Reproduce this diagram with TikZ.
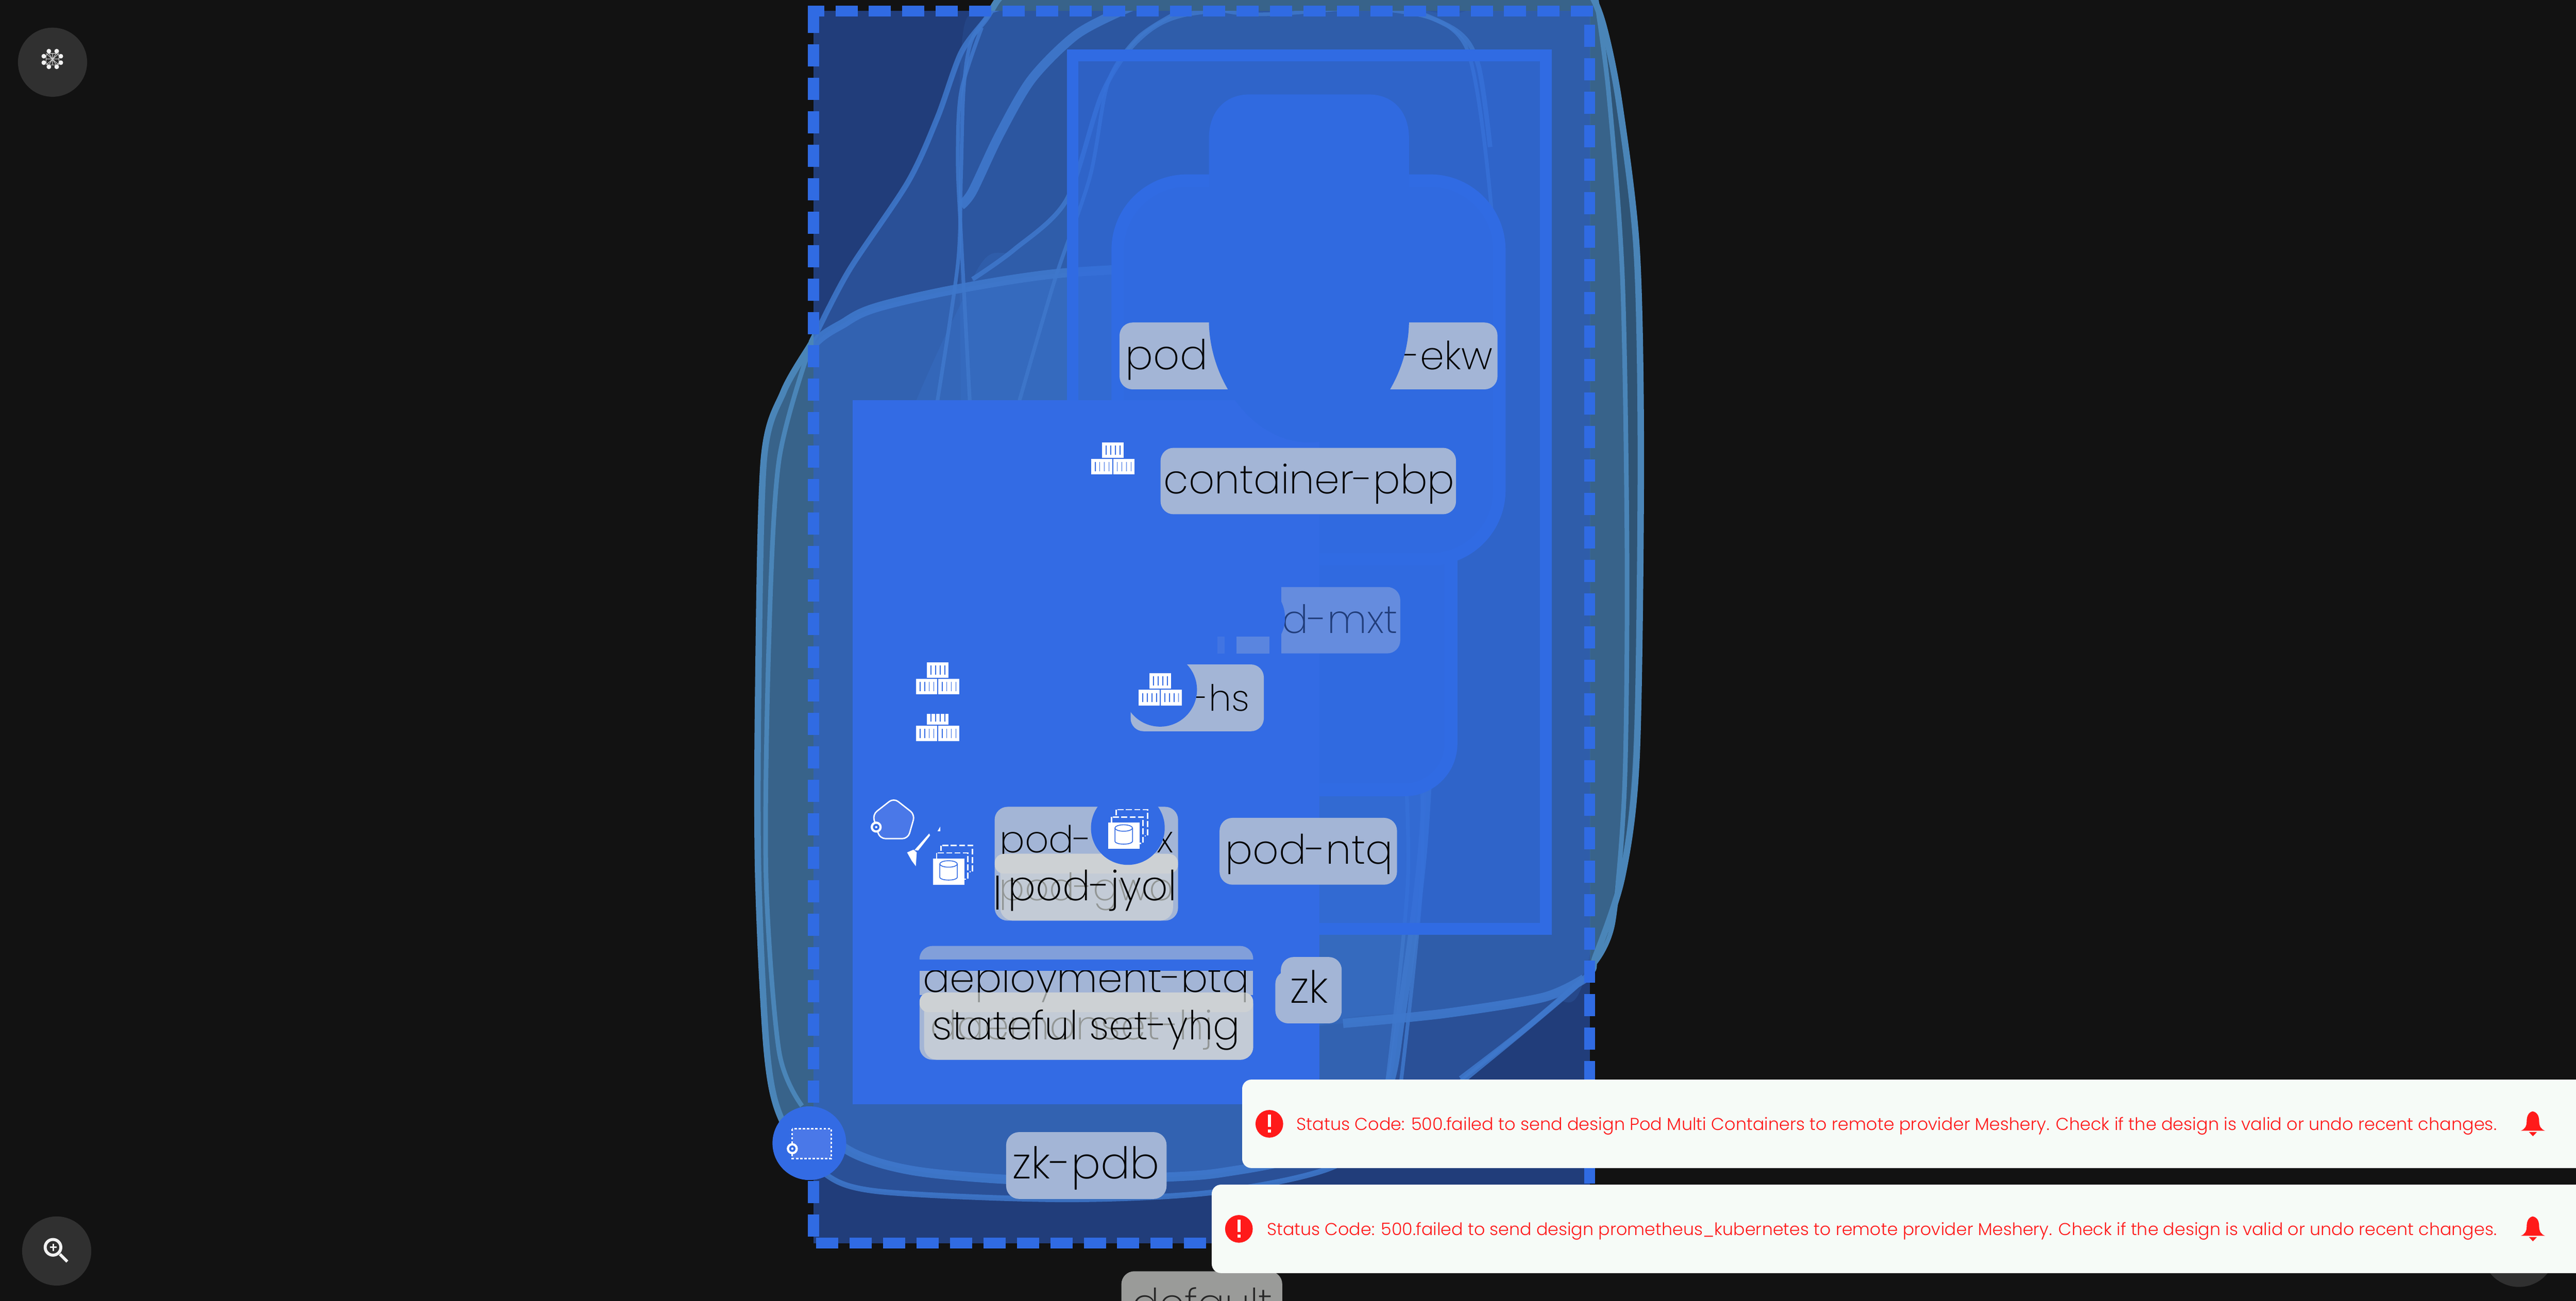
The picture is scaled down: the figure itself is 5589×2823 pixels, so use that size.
\documentclass[tikz,border=0pt]{standalone}
\usepackage{fontspec}
\usepackage{graphicx}
\newfontfamily\lf{Poppins ExtraLight}
\newfontfamily\tf{Poppins Light}
\definecolor{bgk}{HTML}{121212}
\definecolor{navy}{HTML}{213D7A}
\definecolor{dashb}{HTML}{306BE3}
\definecolor{blockb}{HTML}{336BE4}
\definecolor{podb}{HTML}{306AE0}
\definecolor{halo}{HTML}{38638A}
\definecolor{halod}{HTML}{2F5475}
\definecolor{edge}{HTML}{4A85B8}
\definecolor{glow}{HTML}{468CF0}
\definecolor{curvec}{HTML}{3F78CC}
\definecolor{lab}{HTML}{A3B5D6}
\definecolor{labl}{HTML}{C3CBD6}
\definecolor{labo}{HTML}{CDD1D4}
\definecolor{ghost}{HTML}{929695}
\definecolor{dflt}{HTML}{9A9B99}
\definecolor{toast}{HTML}{F6FBF7}
\definecolor{redc}{HTML}{FF1A1A}
\definecolor{btn}{HTML}{303030}
\definecolor{iconb}{HTML}{4A78E8}
\newcommand{\fitw}[2]{\resizebox{#1\dimexpr0.01cm\relax}{!}{\lf #2}}
\newcommand{\fitt}[2]{\resizebox{#1\dimexpr0.01cm\relax}{!}{\tf #2}}
\tikzset{
  txt/.style={inner sep=0pt,outer sep=0pt,anchor=base west,text=black},
  labelbox/.style={fill=lab,rounded corners=0.28cm},
  dashside/.style={draw=dashb,line width=0.24cm},
  thinc/.style={draw=curvec,line width=0.08cm,opacity=.85},
  thickc/.style={draw=curvec,line width=0.2cm,opacity=.9},
  edgec/.style={draw=edge,line width=0.1cm},
}
\def\Oone{plot[smooth cycle] coordinates {(1760,746)(1700,850)(1657,1000)(1645,1500)(1645,1900)(1664,2283)(1696,2430)(1780,2540)(1900,2585)(2300,2603)(2620,2589)(2875,2539)(3050,2440)(3229,2300)(3437,2124)(3462,2076)(3520,1900)(3551,1638)(3560,1000)(3551,542)(3513,223)(3480,60)(3450,-15)(3400,-60)(2250,-60)(2174,-10)(2140,40)(2085,115)(2034,255)(1970,395)(1842,587)(1766,733)}}
\def\Btwo{plot[smooth cycle] coordinates {(1690,1000)(1750,770)(1836,698)(1906,666)(2072,628)(2301,593)(2620,577)(2900,570)(3060,700)(3110,1200)(3090,1800)(3040,2200)(3000,2380)(2850,2500)(2650,2545)(2493,2556)(2238,2562)(1983,2541)(1836,2494)(1740,2389)(1680,2200)(1665,1500)}}
\def\Bthree{plot[smooth cycle] coordinates {(2110,606)(2200,542)(2314,434)(2391,204)(2467,89)(2569,32)(2824,10)(3003,6)(3156,30)(3300,-20)(3520,60)(3540,800)(3530,1500)(3437,2124)(3347,2165)(3130,2200)(2914,2221)(2500,2240)(2100,2000)(1900,1200)}}
\def\Bfour{plot[smooth cycle] coordinates {(2095,1800)(2085,900)(2085,115)(2150,25)(2400,-30)(2700,30)(3000,20)(3180,10)(3520,40)(3530,1500)(3437,2110)(3130,2190)(2914,2210)(2500,2300)}}
\newcommand{\cicon}[2]{%
\begin{scope}[shift={(#1,#2)}]
\foreach \a/\b/\w in {-23/0/47,-47/36/46,1/36/46}{
  \fill[white] (\a,\b) rectangle ++(\w,34);
  \foreach \k in {9,19,29,39}{\draw[blockb,line width=0.02cm] (\a+\k,\b+7) -- ++(0,20);}
}
\end{scope}}
\newcommand{\dbicon}[2]{%
\begin{scope}[shift={(#1,#2)}]
\draw[white,line width=0.03cm,dash pattern=on 0.13cm off 0.05cm] (18,-28) rectangle ++(68,57);
\fill[blockb] (4,-16) rectangle (80,49);
\draw[white,line width=0.03cm,dash pattern=on 0.13cm off 0.05cm] (8,-12) rectangle ++(68,57);
\fill[white] (0,0) rectangle (68,57);
\draw[blockb,line width=0.018cm] (15,12) -- (15,41) arc[start angle=180,end angle=0,x radius=19,y radius=6] -- (53,12);
\draw[blockb,line width=0.018cm] (34,12) ellipse[x radius=19,y radius=7];
\end{scope}}
\newcommand{\kbadge}[2]{\fill[white] (#1,#2) circle[radius=12];\fill[blockb] (#1,#2) circle[radius=7];\fill[white] (#1,#2) circle[radius=2.5];}
\newcommand{\toastrow}[8]{% x top bottom circleX cy textX textW text
\fill[toast,rounded corners=0.2cm] (#1,#2) rectangle (5640,#3);
\fill[redc] (#4,#5) circle[radius=30];
\fill[white] (#4-3.5,#5-20) rectangle (#4+3.5,#5+7);
\fill[white] (#4-3.5,#5+12) rectangle (#4+3.5,#5+19);
\node[txt,text=redc] at (#6,#5+14) {\fitt{#7}{#8}};
\fill[redc] (5495,#5-27) .. controls (5485,#5-25) and (5482,#5-15) .. (5482,#5-5) .. controls (5482,#5+5) and (5478,#5+12) .. (5469,#5+15) -- (5522,#5+15) .. controls (5513,#5+12) and (5509,#5+5) .. (5509,#5-5) .. controls (5509,#5-15) and (5506,#5-25) .. (5495,#5-27) -- cycle;
\fill[redc] (5487,#5+18) -- (5504,#5+18) -- (5495.5,#5+27) -- cycle;
}
\begin{document}
\begin{tikzpicture}[x=0.01cm,y=-0.01cm]
\useasboundingbox (0,0) rectangle (5589,2823);
\clip (0,0) rectangle (5589,2823);
\fill[bgk] (0,0) rectangle (5589,2823);

% halo outside frame
\fill[halo] \Oone;
\fill[halod] plot[smooth] coordinates {(3465,-10)(3490,130)(3513,223)(3545,542)(3556,1000)(3551,1400)(3539,1700)(3510,1950)(3465,2080)} -- plot[smooth] coordinates {(3465,2080)(3500,1950)(3525,1700)(3528,1200)(3520,600)(3490,200)(3462,-10)} -- cycle;
\draw[edgec,line width=0.14cm] \Oone;
\draw[edgec] plot[smooth] coordinates {(3462,-10)(3490,200)(3520,600)(3530,1200)(3525,1700)(3500,2000)(3460,2090)};
\draw[edgec,line width=0.1cm] plot[smooth] coordinates {(1760,746)(1690,1000)(1668,1400)(1662,1900)(1690,2280)(1740,2400)};

% frame fill
\fill[navy] (1765,24) rectangle (3450,2698);

\begin{scope}
\clip (1765,24) rectangle (3450,2698);
\fill[glow,opacity=.25] \Oone;
\fill[glow,opacity=.3] \Btwo;
\fill[glow,opacity=.14] \Bthree;
\fill[glow,opacity=.1] \Bfour;
\draw[thinc,line width=0.12cm] \Oone;
\draw[thickc] \Btwo;
\draw[thinc,line width=0.1cm] plot[smooth] coordinates {(2110,606)(2200,542)(2314,434)(2391,204)(2467,89)(2569,32)(2824,10)(3003,6)(3156,64)(3207,140)(3233,319)};
\draw[thickc] plot[smooth] coordinates {(2914,2221)(3130,2200)(3347,2165)(3437,2124)};
\draw[thinc] plot[smooth] coordinates {(2150,25)(2400,-30)(2700,30)(3000,20)(3180,100)(3240,500)};
\draw[thinc] plot[smooth] coordinates {(2034,869)(2078,574)(2085,383)(2091,191)(2110,83)(2174,0)};
\draw[thinc] plot[smooth] coordinates {(2104,869)(2085,510)(2078,351)(2085,200)(2130,60)};
\draw[thinc] plot[smooth] coordinates {(2212,869)(2289,606)(2365,383)(2404,179)(2467,83)(2544,32)};
\draw[thickc] plot[smooth] coordinates {(2085,446)(2110,415)(2168,293)(2238,172)(2333,77)(2430,25)(2493,0)};
\draw[thinc] plot[smooth] coordinates {(3080,1500)(3085,1900)(3040,2345)};
\draw[thinc] plot[smooth] coordinates {(3040,1500)(3055,1900)(3010,2345)};
\draw[thinc,line width=0.12cm] plot[smooth] coordinates {(3169,2341)(3300,2240)(3437,2124)};
\end{scope}

% inner component rectangle
\fill[dashb,opacity=.55] (2327,120) rectangle (3354,2016);
\draw[dashb,line width=0.25cm] (2327,120) rectangle (3354,2016);

% pods
\draw[dashb,fill=podb,line width=0.28cm,rounded corners=1cm] (2300,900) rectangle (3148,1714);
\draw[dashb,fill=podb,line width=0.27cm,rounded corners=1.5cm] (2425,392) rectangle (3253,1214);
\fill[labelbox] (2429,700) rectangle (3249,845);
\node[txt] (podA) at (2442,802) {\fitw{178}{pod}};
\node[txt] (podB) at (3041,802) {\fitw{198}{-ekw}};

% solid block
\fill[blockb] (1850,869) rectangle (2863,2396);

% tall bubble
\fill[podb] (2623,300) .. controls (2623,240) and (2660,205) .. (2710,205) -- (2970,205) .. controls (3020,205) and (3057,240) .. (3057,300) -- (3057,700) .. controls (3055,830) and (2960,960) .. (2840,960) .. controls (2720,960) and (2625,830) .. (2623,700) -- cycle;

% frame dashes
\draw[dashside,dash pattern=on 0.48cm off 0.245cm,dash phase=0.13cm] (1753,24) -- (3461,24);
\draw[dashside,dash pattern=on 0.48cm off 0.245cm] (1765,24) -- (1765,2698);
\draw[dashside,dash pattern=on 0.48cm off 0.245cm] (3449,54) -- (3449,2600);
\draw[dashside,dash pattern=on 0.48cm off 0.245cm] (1771,2698) -- (3461,2698);

% container-pbp
\fill[labelbox] (2518,972) rectangle (3159,1116);
\node[txt] (cpbp) at (2525,1071) {\fitw{631}{container-pbp}};
\cicon{2414}{960}

% d-mxt
\fill[lab!45!blockb,rounded corners=0.28cm] (2740,1274) rectangle (3038,1418);
\fill[blockb] (2730,1260) rectangle (2780,1430);
\node[txt,text=navy] (dmxt) at (2782,1374) {\fitw{250}{d-mxt}};
\fill[blockb] (2708,1341) circle[radius=80];
\fill[lab!35!blockb] (2683,1382) rectangle (2754,1418);
\fill[lab!12!blockb] (2641,1382) rectangle (2657,1418);

% -hs
\fill[labelbox] (2453,1442) rectangle (2742,1587);
\node[txt] (hs) at (2585,1543) {\fitw{126}{-hs}};
\fill[blockb] (2517,1497) circle[radius=80];
\cicon{2517}{1461}

% left icons
\cicon{2034}{1437}
\begin{scope}
\clip (1950,1550) rectangle (2120,1620);
\cicon{2034}{1539}
\end{scope}

% pod-ntq
\fill[labelbox] (2646,1775) rectangle (3031,1920);
\node[txt] (ntq) at (2659,1875) {\fitw{363}{pod-ntq}};

% pod-x / pod-jyol
\fill[labelbox] (2158,1751) rectangle (2556,1896);
\node[txt] (podx) at (2169,1851) {\fitw{200}{pod-}};
\node[txt] (podxb) at (2510,1851) {\fitw{36}{x}};
\fill[labelbox] (2158,1853) rectangle (2556,1998);
\fill[labl,rounded corners=0.28cm] (2170,1853) rectangle (2545,1998);
\fill[labo,rounded corners=0.2cm] (2158,1853) rectangle (2556,1896);
\begin{scope}
\clip (2158,1853) rectangle (2556,1998);
\node[txt,text=ghost] (gwo) at (2168,1954) {\fitw{378}{pod-gwo}};
\node[txt] (jyol) at (2187,1954) {\fitw{366}{pod-jyol}};
\end{scope}
\draw[black,line width=0.04cm] (2164,1900) -- (2164,1974);
\fill[blockb] (2447,1797) circle[radius=80];
\dbicon{2404}{1785}

% deployment / statefulset
\fill[lab!70!blockb,rounded corners=0.28cm] (1995,2053) rectangle (2719,2110);
\fill[blockb] (1990,2082) rectangle (2725,2107);
\fill[lab] (1995,2107) rectangle (2719,2160);
\begin{scope}
\clip (1995,2107) rectangle (2719,2300);
\node[txt] (depl) at (2002,2153) {\fitw{708}{deployment-btq}};
\end{scope}
\fill[lab,rounded corners=0.28cm] (1995,2154) rectangle (2719,2300);
\fill[labl,rounded corners=0.28cm] (2005,2154) rectangle (2719,2300);
\fill[labo,rounded corners=0.2cm] (1995,2154) rectangle (2719,2197);
\begin{scope}
\clip (1995,2154) rectangle (2719,2300);
\node[txt,text=ghost] (depg) at (2002,2153) {\fitw{708}{deployment-btq}};
\node[txt,text=ghost] (dmn) at (2018,2256) {\fitw{672}{daemonset-hjg}};
\node[txt] (sts) at (2023,2256) {\fitw{667}{stateful set-yhg}};
\end{scope}

% zk
\fill[labelbox] (2779,2077) rectangle (2911,2221);
\fill[labelbox] (2767,2107) rectangle (2850,2221);
\node[txt] (zk) at (2799,2177) {\fitw{83}{zk}};

% zk-pdb
\fill[labelbox] (2183,2457) rectangle (2531,2602);
\node[txt] (pdb) at (2197,2558) {\fitw{319}{zk-pdb}};

% namespace icon
\fill[blockb] (1756,2481) circle[radius=80];
\fill[iconb] (1719,2450) rectangle (1804,2514);
\draw[white,line width=0.035cm,dash pattern=on 0.05cm off 0.04cm] (1719,2450) rectangle (1804,2514);
\kbadge{1719}{2493}

% pentagon + broom + stacked db
\draw[white,fill=iconb,line width=0.03cm,rounded corners=0.12cm] (1939,1732) -- (1985,1768) -- (1970,1820) -- (1909,1820) -- (1893,1768) -- cycle;
\kbadge{1901}{1795}
\fill[white] (2016,1809) -- (2018,1813) -- (1992,1846) -- (1984,1845) -- cycle;
\fill[white] (1968,1850) -- (1982,1844) -- (1989,1850) -- (1987,1880) -- (1978,1868) -- cycle;
\fill[white] (2040,1794) -- (2040,1804) -- (2034,1804) -- cycle;
\dbicon{2024}{1863}

% default
\fill[dflt,rounded corners=0.28cm] (2433,2759) rectangle (2782,2950);
\node[txt,text=black!85] (dfl) at (2456,2860) {\fitw{305}{default}};

% right lower grey button
\fill[btn] (5465,2713) circle[radius=80];

% toasts
\toastrow{2695}{2343}{2535}{2754}{2439}{2813}{2604}{Status Code: 500.failed to send design Pod Multi Containers to remote provider Meshery. Check if the design is valid or undo recent changes.}
\toastrow{2629}{2571}{2763}{2688}{2667}{2749}{2668}{Status Code: 500.failed to send design prometheus\_kubernetes to remote provider Meshery. Check if the design is valid or undo recent changes.}

% top-left button
\fill[btn] (114,135) circle[radius=75];
\foreach \p in {(106,111),(123,111),(95,122),(132,122),(95,136),(132,136),(106,145),(123,145)}{\fill[white!95!black] \p circle[radius=5];}
\draw[white!80!black,line width=0.012cm,rounded corners=0.06cm] (100,116) rectangle (128,141);
\draw[white!80!black,line width=0.012cm] (100,116) -- (128,141) (128,116) -- (100,141) (106,116) -- (122,141) (122,116) -- (106,141) (100,128) -- (128,128) (114,116) -- (114,141);

% bottom-left button
\fill[btn] (123,2715) circle[radius=75];
\draw[white!95!black,line width=0.065cm] (115,2707) circle[radius=17];
\draw[white!95!black,line width=0.065cm] (130,2722) -- (146,2738);
\draw[white!95!black,line width=0.03cm] (108,2707) -- (123,2707) (115.5,2699) -- (115.5,2715);
\end{tikzpicture}
\end{document}
